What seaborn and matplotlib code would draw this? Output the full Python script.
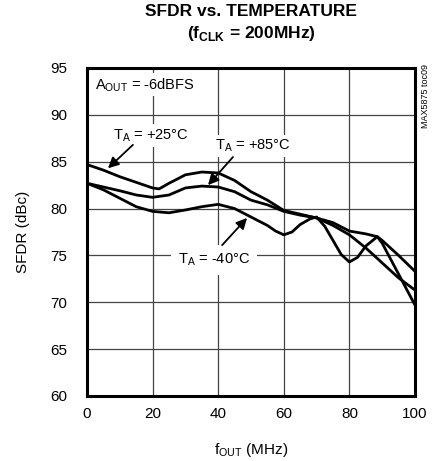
import matplotlib
matplotlib.use('Agg')
import matplotlib.pyplot as plt
import pandas as pd
import seaborn as sns

# SFDR vs fOUT at three temperatures
f_25 = [0, 5, 10, 15, 20, 22, 25, 30, 35, 40, 45, 50, 55, 60, 65, 70, 75, 80, 85, 90, 95, 100]
sfdr_25 = [84.7, 84.1, 83.4, 82.8, 82.2, 82.1, 82.7, 83.6, 83.9, 83.8, 83.0, 81.8, 80.9, 79.8, 79.4, 79.0,
           78.2, 77.2, 75.8, 74.2, 72.6, 71.3]

f_85 = [0, 5, 10, 15, 20, 25, 30, 35, 40, 45, 50, 55, 60, 65, 70, 75, 80, 85, 88.5, 90, 95, 100]
sfdr_85 = [82.7, 82.3, 81.9, 81.45, 81.2, 81.45, 82.2, 82.4, 82.3, 81.8, 80.9, 80.4, 79.7, 79.3, 79.0,
           78.5, 77.6, 77.3, 77.0, 76.6, 75.0, 73.3]

f_m40 = [0, 5, 10, 15, 20, 25, 30, 35, 40, 45, 50, 55, 57.5, 60, 62.5, 65, 68, 70, 72.5, 75, 77.5, 80,
         82.5, 85, 88.5, 90, 95, 100]
sfdr_m40 = [82.7, 82.0, 81.1, 80.2, 79.7, 79.55, 79.85, 80.2, 80.45, 80.0, 79.1, 78.2, 77.6, 77.2, 77.5,
            78.3, 78.9, 79.1, 78.1, 76.6, 75.1, 74.3, 74.8, 76.0, 77.0, 76.3, 73.0, 69.7]

temps = ['+25', '+85', '-40']

df = pd.concat([
    pd.DataFrame({'fout': f_25, 'sfdr': sfdr_25, 'temp': temps[0]}),
    pd.DataFrame({'fout': f_85, 'sfdr': sfdr_85, 'temp': temps[1]}),
    pd.DataFrame({'fout': f_m40, 'sfdr': sfdr_m40, 'temp': temps[2]}),
])

sns.set_style("white")
plt.rcParams['font.family'] = ['Liberation Sans', 'DejaVu Sans']
plt.rcParams['mathtext.fontset'] = 'custom'
plt.rcParams['mathtext.rm'] = 'Liberation Sans'
plt.rcParams['mathtext.bf'] = 'Liberation Sans:bold'
plt.rcParams['text.color'] = 'black'
plt.rcParams['axes.labelcolor'] = 'black'
plt.rcParams['xtick.color'] = 'black'
plt.rcParams['ytick.color'] = 'black'

fig = plt.figure(figsize=(4.33, 4.61), dpi=100)
ax = fig.add_axes([87 / 433, 1 - 396 / 461, 328 / 433, 328 / 461])

sns.lineplot(data=df, x='fout', y='sfdr', units='temp', estimator=None, sort=False,
             color='black', lw=2.0, ax=ax)

ax.set_xlim(0, 100)
ax.set_ylim(60, 95)
ax.set_xticks(range(0, 101, 20))
ax.set_yticks(range(60, 96, 5))
ax.grid(True, color='#444444', lw=0.9)
ax.tick_params(axis='x', length=0, labelsize=11, pad=8)
ax.tick_params(axis='y', length=0, labelsize=11, pad=14)
for s in ax.spines.values():
    s.set_linewidth(2.2)
    s.set_color('black')

ax.set_xlabel(r'f$_\mathregular{OUT}$ (MHz)', fontsize=11, labelpad=14)
ax.set_ylabel('SFDR (dBc)', fontsize=11, labelpad=15)

fig.text(251 / 433, 1 - 11 / 461, 'SFDR vs. TEMPERATURE', ha='center', va='center',
         fontsize=12.5, fontweight='bold')
fig.text(251 / 433, 1 - 33 / 461, r'(f$_\mathbf{CLK}$ = 200MHz)', ha='center', va='center',
         fontsize=12.5, fontweight='bold')
fig.text(425 / 433, 1 - 96 / 461, 'MAX5875 toc09', rotation=90, ha='center', va='center',
         fontsize=6.5)

box = dict(facecolor='white', edgecolor='none', pad=2)
ax.text(2.4, 93.2, r'A$_\mathregular{OUT}$ = -6dBFS', fontsize=10.5, va='center', ha='left', bbox=box)
ax.text(7.9, 87.8, r'T$_\mathregular{A}$ = +25°C', fontsize=10.5, va='center', ha='left', bbox=box)
ax.text(39.0, 86.7, r'T$_\mathregular{A}$ = +85°C', fontsize=10.5, va='center', ha='left', bbox=box)
ax.text(27.7, 74.5, r'T$_\mathregular{A}$ = -40°C', fontsize=10.5, va='center', ha='left',
        bbox=dict(facecolor='white', edgecolor='none', pad=5))

arrow = dict(arrowstyle='-|>', lw=1.3, color='black', mutation_scale=16, shrinkA=0, shrinkB=0)
ax.annotate('', xy=(6.4, 84.3), xytext=(14.0, 86.8), arrowprops=arrow)
ax.annotate('', xy=(36.9, 82.5), xytext=(44.5, 85.5), arrowprops=arrow)
ax.annotate('', xy=(48.8, 79.0), xytext=(41.2, 76.1), arrowprops=arrow)

fig.savefig('out.png', dpi=100)
